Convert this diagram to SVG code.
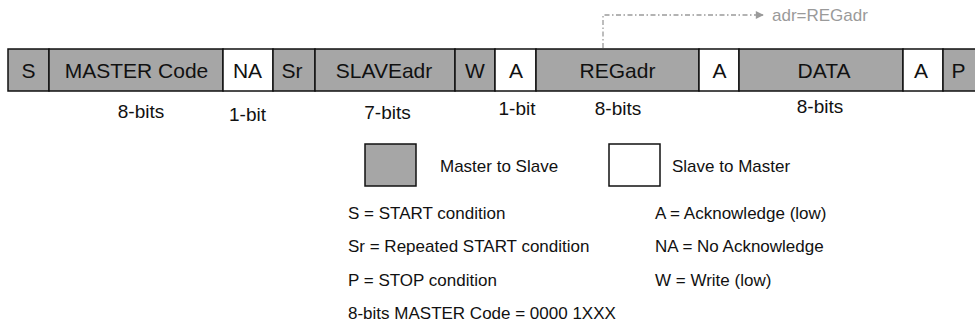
<svg xmlns="http://www.w3.org/2000/svg" width="975" height="329" viewBox="0 0 975 329">
<defs>
<style>
.m{fill:#a6a6a6;stroke:#111111;stroke-width:1.5}
.s{fill:#ffffff;stroke:#111111;stroke-width:1.5}
.lbl{font-family:"Liberation Sans",Arial,sans-serif;font-size:21px;fill:#111111;text-anchor:middle}
.bits{font-family:"Liberation Sans",Arial,sans-serif;font-size:19px;fill:#111111;text-anchor:middle}
.leg{font-family:"Liberation Sans",Arial,sans-serif;font-size:17px;fill:#111111}
.note{font-family:"Liberation Sans",Arial,sans-serif;font-size:17px;fill:#9a9a9a}
.dash{fill:none;stroke:#9a9a9a;stroke-width:1.3;stroke-dasharray:5 2.5 1.5 2.5}
</style>
<marker id="arr" viewBox="0 0 10 10" refX="9" refY="5" markerWidth="10" markerHeight="8" markerUnits="userSpaceOnUse" orient="auto">
<path d="M0,0 L10,5 L0,10 z" fill="#9a9a9a"/>
</marker>
</defs>
<rect width="975" height="329" fill="#ffffff"/>
<g id="frame">
<g id="f-s"><rect class="m" x="8" y="49" width="41" height="42"/><text class="lbl" x="28.5" y="78">S</text></g>
<g id="f-master"><rect class="m" x="49" y="49" width="174" height="42"/><text class="lbl" x="136.5" y="78">MASTER Code</text></g>
<g id="f-na"><rect class="s" x="223" y="49" width="50" height="42"/><text class="lbl" x="247.5" y="78">NA</text></g>
<g id="f-sr"><rect class="m" x="273" y="49" width="42" height="42"/><text class="lbl" x="292" y="78">Sr</text></g>
<g id="f-slave"><rect class="m" x="315" y="49" width="140" height="42"/><text class="lbl" x="384" y="78">SLAVEadr</text></g>
<g id="f-w"><rect class="m" x="455" y="49" width="40" height="42"/><text class="lbl" x="475" y="78">W</text></g>
<g id="f-a1"><rect class="s" x="495" y="49" width="41" height="42"/><text class="lbl" x="516" y="78">A</text></g>
<g id="f-reg"><rect class="m" x="536" y="49" width="163" height="42"/><text class="lbl" x="617.5" y="78">REGadr</text></g>
<g id="f-a2"><rect class="s" x="699" y="49" width="40" height="42"/><text class="lbl" x="719.5" y="78">A</text></g>
<g id="f-data"><rect class="m" x="739" y="49" width="164" height="42"/><text class="lbl" x="824" y="78">DATA</text></g>
<g id="f-a3"><rect class="s" x="903" y="49" width="40" height="42"/><text class="lbl" x="921" y="78">A</text></g>
<g id="f-p"><rect class="m" x="943" y="49" width="40" height="42"/><text class="lbl" x="958.5" y="78">P</text></g>
</g>
<g id="bit-labels">
<text class="bits" x="141" y="118">8-bits</text>
<text class="bits" x="247.5" y="121">1-bit</text>
<text class="bits" x="387.5" y="119">7-bits</text>
<text class="bits" x="517" y="115">1-bit</text>
<text class="bits" x="618" y="115">8-bits</text>
<text class="bits" x="820" y="113">8-bits</text>
</g>
<g id="connectors">
<path class="dash" d="M603,48 V15 H763" marker-end="url(#arr)"/>
</g>
<g id="note"><text class="note" x="772" y="21">adr=REGadr</text></g>
<g id="legend">
<g id="leg-m2s"><rect class="m" x="365" y="144" width="51" height="42"/><text class="leg" x="440" y="172">Master to Slave</text></g>
<g id="leg-s2m"><rect class="s" x="609" y="144" width="51" height="42"/><text class="leg" x="672" y="172">Slave to Master</text></g>
<text class="leg" x="348" y="219">S = START condition</text>
<text class="leg" x="348" y="252">Sr = Repeated START condition</text>
<text class="leg" x="348" y="286">P = STOP condition</text>
<text class="leg" x="348" y="319">8-bits MASTER Code = 0000 1XXX</text>
<text class="leg" x="655" y="219">A = Acknowledge (low)</text>
<text class="leg" x="655" y="252">NA = No Acknowledge</text>
<text class="leg" x="655" y="286">W = Write (low)</text>
</g>
</svg>
